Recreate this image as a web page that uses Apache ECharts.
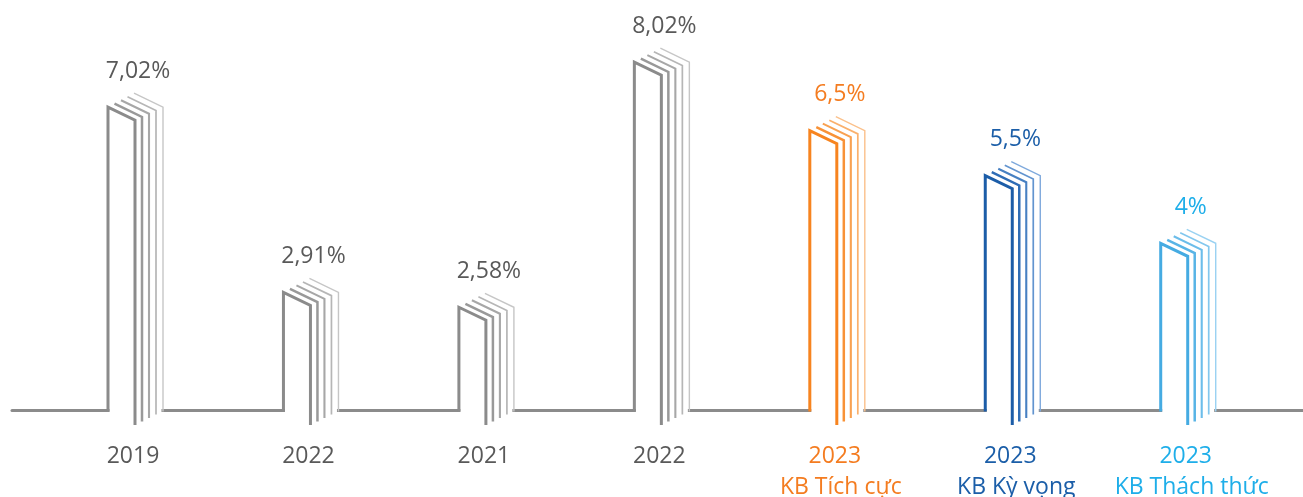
<!DOCTYPE html>
<html><head><meta charset="utf-8">
<script src="https://cdn.jsdelivr.net/npm/echarts@6/dist/echarts.min.js"></script>
<style>html,body{margin:0;padding:0;background:#fff}#c{width:1303px;height:497px}</style>
</head><body><div id="c"></div>
<script>
// ---- data ----
const years = ['2019', '2022', '2021', '2022', '2023', '2023', '2023'];
const scenarios = ['', '', '', '', 'KB Tích cực', 'KB Kỳ vọng', 'KB Thách thức'];
const values = [7.02, 2.91, 2.58, 8.02, 6.5, 5.5, 4];

// ---- styles ----
const strokePalettes = [
  ['#8b8b8b', '#999999', '#a7a7a7', '#b6b6b6', '#c6c6c6'],
  ['#8b8b8b', '#999999', '#a7a7a7', '#b6b6b6', '#c6c6c6'],
  ['#8b8b8b', '#999999', '#a7a7a7', '#b6b6b6', '#c6c6c6'],
  ['#8b8b8b', '#999999', '#a7a7a7', '#b6b6b6', '#c6c6c6'],
  ['#f7841f', '#f89237', '#f9a151', '#fab06c', '#fbc08a'],
  ['#1c5da8', '#2e6cb5', '#4780c2', '#6294cf', '#7ea9dc'],
  ['#45abe2', '#58b4e6', '#6cbdea', '#82c7ee', '#9ad2f2']
];
const textColors = ['#595959', '#595959', '#595959', '#595959', '#f47c20', '#1b5ea8', '#1eaee9'];
const FONT = '"Open Sans", sans-serif';

function fmt(v) { return String(v).replace('.', ',') + '%'; }

const chart = echarts.init(document.getElementById('c'), null, { renderer: 'canvas' });

function renderItem(params, api) {
  const i = api.value(0);
  const v = api.value(1);
  const cs = params.coordSys;
  const s = api.size([1, 0])[0] / 175.45;
  const topPt = api.coord([i, v]);
  const B = cs.y + cs.height;
  const T = topPt[1];
  const L = topPt[0] - 13.5 * s;
  const W = 27 * s;
  const pal = strokePalettes[i];
  const widths = [3, 2.5, 2.1, 1.7, 1.4];
  const children = [];
  // gap in baseline under the bar
  children.push({
    type: 'rect',
    shape: { x: L + 1.5, y: B - 3, width: W + 28 * s - 3, height: 6 },
    style: { fill: '#ffffff' }
  });
  // main outline
  children.push({
    type: 'polyline',
    shape: { points: [[L, B + 1.5], [L, T], [L + W, T + 13], [L + W, B + 15]] },
    style: { stroke: pal[0], lineWidth: widths[0], fill: null, lineJoin: 'miter' }
  });
  // stacked copies
  for (let k = 1; k <= 4; k++) {
    const rx = L + W + 7 * k * s;
    const pts = [[L + 6.5 * k * s, T - 3.5 * k], [rx, T + 13 - 3.25 * k], [rx, B + 15 - 3.5 * k]];
    if (k === 4) pts[2] = [rx, B + 1.5];
    children.push({
      type: 'polyline',
      shape: { points: pts },
      style: { stroke: pal[k], lineWidth: widths[k], fill: null, lineJoin: 'miter' }
    });
  }
  // value label
  children.push({
    type: 'text',
    style: {
      x: L + 30 * s, y: T - 36, text: fmt(v), fill: textColors[i],
      font: '23px ' + FONT, align: 'center', verticalAlign: 'middle'
    }
  });
  // category labels
  children.push({
    type: 'text',
    style: {
      x: L + 25 * s, y: B + 46, text: years[i], fill: textColors[i],
      font: '23px ' + FONT, align: 'center', verticalAlign: 'middle'
    }
  });
  if (scenarios[i]) {
    children.push({
      type: 'text',
      style: {
        x: L + 31 * s, y: B + 77, text: scenarios[i], fill: textColors[i],
        font: '23px ' + FONT, align: 'center', verticalAlign: 'middle'
      }
    });
  }
  return { type: 'group', children: children };
}

chart.setOption({
  animation: false,
  grid: { left: 12, right: 0, top: 9, bottom: 87 },
  xAxis: {
    type: 'value', min: -0.6241, max: 6.734,
    axisLine: { show: true, lineStyle: { color: '#8b8b8b', width: 3 } },
    axisTick: { show: false }, axisLabel: { show: false }, splitLine: { show: false }
  },
  yAxis: {
    type: 'value', min: 0.3, max: 9.2, show: false, splitLine: { show: false }
  },
  series: [{
    type: 'custom',
    renderItem: renderItem,
    clip: false,
    encode: { x: 0, y: 1 },
    data: values.map((v, i) => [i, v])
  }]
});
</script>
</body></html>
